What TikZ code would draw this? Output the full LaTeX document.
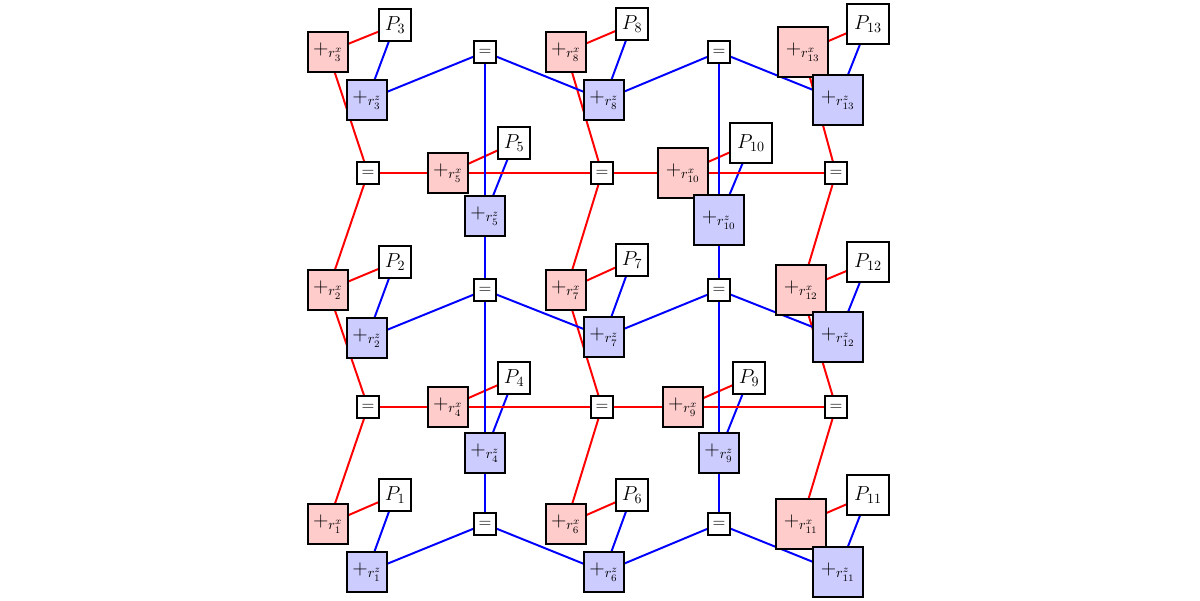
\documentclass[tikz,border=0pt]{standalone}
\usetikzlibrary{backgrounds}
\begin{document}
\begin{tikzpicture}[x=0.025cm,y=-0.025cm,
 bx/.style={draw,line width=1.6pt,inner sep=0pt,minimum size=1cm,font=\Large},
 wide/.style={minimum size=1.25cm},
 rx/.style={bx,fill=red!20},
 rz/.style={bx,fill=blue!20},
 pp/.style={draw,line width=1.6pt,fill=white,inner sep=0pt,minimum height=0.8cm,minimum width=0.8cm,font=\Large},
 pw/.style={minimum width=1.05cm,minimum height=1cm},
 eq/.style={draw,line width=1.6pt,fill=white,inner sep=0pt,minimum size=0.55cm,font=\large},
 rl/.style={red,line width=1.4pt},
 bl/.style={blue,line width=1.4pt}]
\useasboundingbox (0,0) rectangle (1200,600);
% equality nodes
\node[eq] (Ea1) at (368,173) {$=$};
\node[eq] (Eb1) at (602,173) {$=$};
\node[eq] (Ec1) at (836,173) {$=$};
\node[eq] (Ea2) at (368,407) {$=$};
\node[eq] (Eb2) at (602,407) {$=$};
\node[eq] (Ec2) at (836,407) {$=$};
\node[eq] (B1) at (485,52) {$=$};
\node[eq] (B2) at (719,52) {$=$};
\node[eq] (B3) at (485,290) {$=$};
\node[eq] (B4) at (719,290) {$=$};
\node[eq] (B5) at (485,524) {$=$};
\node[eq] (B6) at (719,524) {$=$};
% red boxes
\node[rx] (x3) at (328,52) {$+_{r^x_3}$};
\node[rx] (x8) at (566,52) {$+_{r^x_8}$};
\node[rx,wide] (x13) at (803,52) {$+_{r^x_{13}}$};
\node[rx] (x5) at (448,173) {$+_{r^x_5}$};
\node[rx,wide] (x10) at (683,173) {$+_{r^x_{10}}$};
\node[rx] (x2) at (328,290) {$+_{r^x_2}$};
\node[rx] (x7) at (566,290) {$+_{r^x_7}$};
\node[rx,wide] (x12) at (801,290) {$+_{r^x_{12}}$};
\node[rx] (x4) at (448,407) {$+_{r^x_4}$};
\node[rx] (x9) at (683,407) {$+_{r^x_9}$};
\node[rx] (x1) at (328,524) {$+_{r^x_1}$};
\node[rx] (x6) at (566,524) {$+_{r^x_6}$};
\node[rx,wide] (x11) at (801,524) {$+_{r^x_{11}}$};
% blue boxes
\node[rz] (z3) at (367,100) {$+_{r^z_3}$};
\node[rz] (z8) at (604,100) {$+_{r^z_8}$};
\node[rz,wide] (z13) at (838,100) {$+_{r^z_{13}}$};
\node[rz] (z5) at (485,216) {$+_{r^z_5}$};
\node[rz,wide] (z10) at (719,220) {$+_{r^z_{10}}$};
\node[rz] (z2) at (367,338) {$+_{r^z_2}$};
\node[rz] (z7) at (604,337) {$+_{r^z_7}$};
\node[rz,wide] (z12) at (838,337) {$+_{r^z_{12}}$};
\node[rz] (z4) at (485,453) {$+_{r^z_4}$};
\node[rz] (z9) at (719,453) {$+_{r^z_9}$};
\node[rz] (z1) at (367,572) {$+_{r^z_1}$};
\node[rz] (z6) at (604,572) {$+_{r^z_6}$};
\node[rz,wide] (z11) at (838,572) {$+_{r^z_{11}}$};
% P nodes
\node[pp] (P3) at (395,25) {$P_3$};
\node[pp] (P8) at (632,24) {$P_8$};
\node[pp,pw] (P13) at (868,24) {$P_{13}$};
\node[pp] (P5) at (514,143) {$P_5$};
\node[pp,pw] (P10) at (751,143) {$P_{10}$};
\node[pp] (P2) at (395,262) {$P_2$};
\node[pp] (P7) at (632,260) {$P_7$};
\node[pp,pw] (P12) at (868,262) {$P_{12}$};
\node[pp] (P4) at (514,378) {$P_4$};
\node[pp] (P9) at (749,378) {$P_9$};
\node[pp] (P1) at (395,495) {$P_1$};
\node[pp] (P6) at (632,495) {$P_6$};
\node[pp,pw] (P11) at (868,495) {$P_{11}$};
\begin{scope}[on background layer]
\foreach \i in {1,...,13}{
  \draw[rl] (x\i.center) -- (P\i.center);
  \draw[bl] (z\i.center) -- (P\i.center);}
\draw[rl] (x3.center) -- (Ea1.center) -- (x2.center) -- (Ea2.center) -- (x1.center);
\draw[rl] (x8.center) -- (Eb1.center) -- (x7.center) -- (Eb2.center) -- (x6.center);
\draw[rl] (x13.center) -- (Ec1.center) -- (x12.center) -- (Ec2.center) -- (x11.center);
\draw[rl] (Ea1.center) -- (x5.center) -- (Eb1.center) -- (x10.center) -- (Ec1.center);
\draw[rl] (Ea2.center) -- (x4.center) -- (Eb2.center) -- (x9.center) -- (Ec2.center);
\draw[bl] (z3.center) -- (B1.center) -- (z8.center) -- (B2.center) -- (z13.center);
\draw[bl] (z2.center) -- (B3.center) -- (z7.center) -- (B4.center) -- (z12.center);
\draw[bl] (z1.center) -- (B5.center) -- (z6.center) -- (B6.center) -- (z11.center);
\draw[bl] (B1.center) -- (z5.center) -- (B3.center) -- (z4.center) -- (B5.center);
\draw[bl] (B2.center) -- (z10.center) -- (B4.center) -- (z9.center) -- (B6.center);
\end{scope}
\end{tikzpicture}
\end{document}
